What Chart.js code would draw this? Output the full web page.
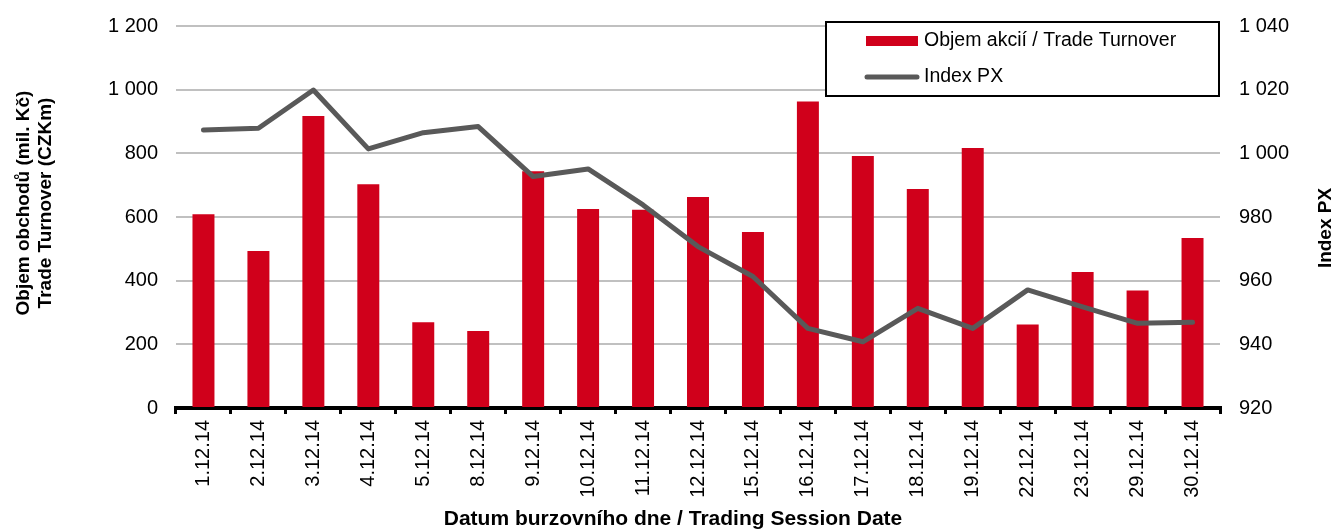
<!DOCTYPE html>
<html>
<head>
<meta charset="utf-8">
<script src="https://cdn.jsdelivr.net/npm/chart.js@4/dist/chart.umd.min.js"></script>
<style>
  html, body { margin: 0; padding: 0; background: #fff; }
  #wrap { width: 1336px; height: 530px; }
</style>
</head>
<body>
<div id="wrap"><canvas id="myChart" width="1336" height="530"></canvas></div>
<script>
const dates = ['1.12.14', '2.12.14', '3.12.14', '4.12.14', '5.12.14', '8.12.14', '9.12.14', '10.12.14',
  '11.12.14', '12.12.14', '15.12.14', '16.12.14', '17.12.14', '18.12.14', '19.12.14', '22.12.14',
  '23.12.14', '29.12.14', '30.12.14']
const turnover = [609, 493, 917, 703, 269, 242, 744, 625, 623, 663, 553, 963, 792, 688, 817, 262, 427, 369, 534]
const indexPX = [1007.3, 1007.9, 1019.9, 1001.4, 1006.5, 1008.4, 992.7, 995.1, 983.8, 970.7, 961.3, 945.0,
  940.8, 951.3, 945.0, 957.1, 951.8, 946.6, 946.9]
const leftRange = [0, 1200, 200]
const rightRange = [920, 1040, 20]
const leftTitle = ['Objem obchodů (mil. Kč)', 'Trade Turnover (CZKm)']
const rightTitle = 'Index PX'
const xTitle = 'Datum burzovního dne / Trading Session Date'

const FONT = '"Liberation Sans", Arial, sans-serif'

function spaced(v) {
  return String(v).replace(/\B(?=(\d{3})+(?!\d))/g, ' ')
}

// titles + boxed legend drawn on top
const extras = {
  id: 'extras',
  afterDraw(chart) {
    const c = chart.ctx
    c.save()
    c.fillStyle = '#000'
    c.textAlign = 'center'
    c.textBaseline = 'middle'
    c.font = 'bold 21px ' + FONT
    c.fillText(xTitle, 673, 519)

    c.font = 'bold 19px ' + FONT
    const vtext = function (txt, x, y) {
      c.save()
      c.translate(x, y)
      c.rotate(-Math.PI / 2)
      c.fillText(txt, 0, 0)
      c.restore()
    }
    vtext(leftTitle[0], 24, 203)
    vtext(leftTitle[1], 46, 203)
    vtext(rightTitle, 1326, 228)

    // legend
    const bars = chart.data.datasets[0]
    const line = chart.data.datasets[1]
    c.fillStyle = '#fff'
    c.fillRect(826, 22, 393, 74)
    c.strokeStyle = '#000'
    c.lineWidth = 2
    c.strokeRect(826, 22, 393, 74)
    c.fillStyle = bars.backgroundColor
    c.fillRect(866, 36, 52, 10)
    c.strokeStyle = line.borderColor
    c.lineWidth = 5
    c.lineCap = 'round'
    c.beginPath()
    c.moveTo(867, 77)
    c.lineTo(917, 77)
    c.stroke()
    c.fillStyle = '#000'
    c.textAlign = 'left'
    c.font = '19.5px ' + FONT
    c.fillText(bars.label, 924, 41)
    c.fillText(line.label, 924, 77)
    c.restore()
  }
}

var ctx = document.getElementById('myChart')
const config = {
  data: {
    labels: dates,
    datasets: [{
        type: 'bar',
        label: 'Objem akcií / Trade Turnover',
        data: turnover,
        yAxisID: 'y',
        backgroundColor: '#d0001b',
        categoryPercentage: 1,
        barPercentage: 0.4,
        order: 2
    }, {
        type: 'line',
        label: 'Index PX',
        data: indexPX,
        yAxisID: 'y1',
        borderColor: '#595959',
        borderWidth: 5,
        tension: 0,
        pointRadius: 0,
        borderCapStyle: 'round',
        borderJoinStyle: 'round',
        order: 1
    }]
  },
  options: {
    responsive: false,
    animation: false,
    layout: { padding: { top: 26, left: 0, right: 0, bottom: 0 } },
    scales: {
      x: {
        position: 'bottom',
        afterFit: function (s) { s.height = 122 },
        grid: {
          offset: true,
          drawOnChartArea: false,
          color: '#000',
          lineWidth: 3,
          tickLength: 6
        },
        border: { color: '#000', width: 4 },
        ticks: {
          minRotation: 90,
          maxRotation: 90,
          autoSkip: false,
          padding: 6,
          color: '#000',
          font: { family: FONT, size: 20 }
        }
      },
      y: {
        position: 'left',
        min: leftRange[0],
        max: leftRange[1],
        afterFit: function (s) { s.width = 176; s.paddingTop = 0; s.paddingBottom = 0 },
        grid: { color: '#c0c0c0', lineWidth: 2, drawTicks: false },
        border: { display: false },
        ticks: {
          stepSize: leftRange[2],
          padding: 18,
          color: '#000',
          font: { family: FONT, size: 20 },
          callback: function (value) { return spaced(value) }
        }
      },
      y1: {
        position: 'right',
        min: rightRange[0],
        max: rightRange[1],
        afterFit: function (s) { s.width = 116; s.paddingTop = 0; s.paddingBottom = 0 },
        grid: { drawOnChartArea: false, drawTicks: false },
        border: { display: false },
        ticks: {
          stepSize: rightRange[2],
          padding: 19,
          color: '#000',
          font: { family: FONT, size: 20 },
          callback: function (value) { return spaced(value) }
        }
      }
    },
    plugins: {
      legend: { display: false },
      tooltip: { enabled: false }
    }
  },
  plugins: [extras]
}
var comboChart = new Chart(ctx, config)
</script>
</body>
</html>
